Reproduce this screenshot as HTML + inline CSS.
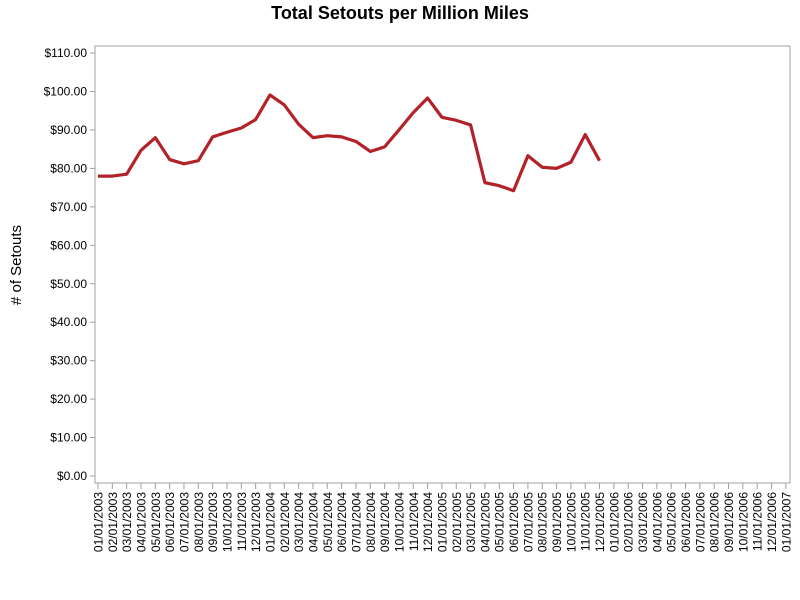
<!DOCTYPE html>
<html><head><meta charset="utf-8"><style>body{margin:0;background:#fff}svg{display:block}</style></head><body>
<svg width="800" height="600" xmlns="http://www.w3.org/2000/svg" font-family="Liberation Sans, Arial, sans-serif">
<text x="400" y="19" text-anchor="middle" font-size="18" font-weight="bold">Total Setouts per Million Miles</text>
<text transform="translate(21,265) rotate(-90)" text-anchor="middle" font-size="15">#  of Setouts</text>
<rect x="95" y="46" width="695" height="437" fill="none" stroke="#a0a0a0" stroke-width="1"/>
<g id="y" font-size="12" text-anchor="end"></g>
<g id="x" font-size="12"></g>
<polyline id="ln" fill="none" stroke="#b22228" stroke-width="3.2" stroke-linejoin="round" points=""/>
<script>
var ns="http://www.w3.org/2000/svg",yg=document.getElementById('y'),xg=document.getElementById('x');
function Y(v){return 476-3.845*v;}
for(var v=0;v<=110;v+=10){var y=Y(v);
var l=document.createElementNS(ns,'line');l.setAttribute('x1',90);l.setAttribute('x2',95);l.setAttribute('y1',y);l.setAttribute('y2',y);l.setAttribute('stroke','#a0a0a0');yg.appendChild(l);
var t=document.createElementNS(ns,'text');t.setAttribute('x',87);t.setAttribute('y',y+4);t.textContent='$'+v+'.00';yg.appendChild(t);}
for(var i=0;i<49;i++){var x=98+i*14.33;
var l=document.createElementNS(ns,'line');l.setAttribute('x1',x);l.setAttribute('x2',x);l.setAttribute('y1',483);l.setAttribute('y2',489);l.setAttribute('stroke','#a0a0a0');xg.appendChild(l);
var m=i%12+1,yr=2003+Math.floor(i/12);
var t=document.createElementNS(ns,'text');t.setAttribute('transform','translate('+(x+4.5)+',492) rotate(-90)');t.setAttribute('text-anchor','end');t.textContent=(m<10?'0':'')+m+'/01/'+yr;xg.appendChild(t);}
var d=[78,78,78.5,84.7,88,82.3,81.2,82,88.2,89.4,90.5,92.7,99.1,96.5,91.5,88,88.5,88.2,87,84.4,85.6,90,94.5,98.3,93.3,92.5,91.3,76.3,75.5,74.2,83.3,80.3,80,81.6,88.8,82];
var p=d.map(function(v,i){return (98+i*14.33)+','+Y(v);}).join(' ');
document.getElementById('ln').setAttribute('points',p);
</script>
</svg>
</body></html>
